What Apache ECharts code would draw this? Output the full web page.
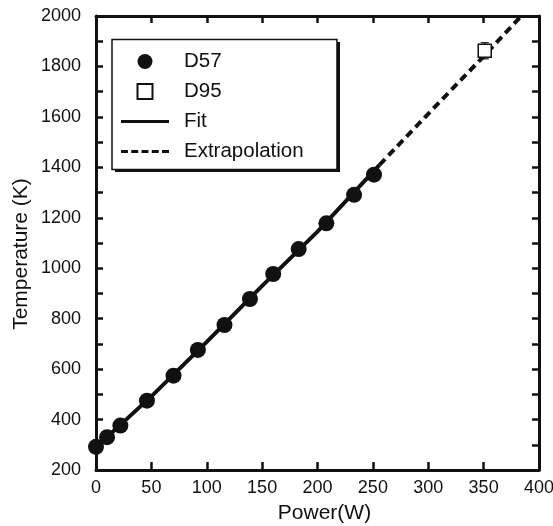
<!DOCTYPE html>
<html>
<head>
<meta charset="utf-8">
<script src="https://cdn.jsdelivr.net/npm/echarts@6/dist/echarts.min.js"></script>
<style>
html,body{margin:0;padding:0;background:#fff;}
#chart{width:553px;height:526px;}
</style>
</head>
<body>
<div id="chart"></div>
<script>
// ---- data ----
const powerD57 = [0, 10, 22, 46, 70, 92, 116, 139, 160, 183, 208, 233, 251];
const tempD57  = [292, 330, 376, 475, 574, 676, 775, 878, 977, 1076, 1178, 1291, 1371];
const powerD95 = [351];
const tempD95  = [1862];
const errD95   = [32];
const fitPower = [0, 50, 100, 150, 200, 256];
const fitTemp  = [290, 492, 708, 930, 1145, 1410];
const extPower = [256, 300, 350, 384];
const extTemp  = [1410, 1612, 1840, 2000];
const xTicks = [0, 50, 100, 150, 200, 250, 300, 350, 400];
const yTicks = [200, 400, 600, 800, 1000, 1200, 1400, 1600, 1800, 2000];

const FONT = '"Liberation Sans", Arial, sans-serif';
const INK = '#111';

const zip = (a, b) => a.map((v, i) => [v, b[i]]);
const plain = v => String(v);

const chart = echarts.init(document.getElementById('chart'), null, {renderer: 'canvas'});
const option = {
  animation: false,
  backgroundColor: '#fff',
  grid: {left: 96, right: 14, top: 16, bottom: 56, containLabel: false, outerBoundsMode: 'none'},
  xAxis: [{
    type: 'value', position: 'bottom',
    min: xTicks[0], max: xTicks[xTicks.length - 1], interval: 50,
    name: 'Power(W)', nameLocation: 'middle', nameGap: 33, nameMoveOverlap: false,
    nameTextStyle: {fontFamily: FONT, fontSize: 21, color: INK, padding: [0, 0, 0, 14]},
    axisLine: {show: true, onZero: false, lineStyle: {color: INK, width: 3}},
    axisTick: {show: true, inside: true, length: 8, lineStyle: {color: INK, width: 2.5}},
    axisLabel: {fontFamily: FONT, fontSize: 18, color: INK, margin: 9, formatter: plain},
    splitLine: {show: false}
  }, {
    type: 'value', position: 'top',
    min: xTicks[0], max: xTicks[xTicks.length - 1], interval: 50,
    axisLine: {show: true, onZero: false, lineStyle: {color: INK, width: 3}},
    axisTick: {show: true, inside: true, length: 7, lineStyle: {color: INK, width: 2.5}},
    axisLabel: {show: false},
    splitLine: {show: false}
  }],
  yAxis: [{
    type: 'value', position: 'left',
    min: yTicks[0], max: yTicks[yTicks.length - 1], interval: 200,
    name: 'Temperature (K)', nameLocation: 'middle', nameGap: 64, nameMoveOverlap: false,
    nameTextStyle: {fontFamily: FONT, fontSize: 21, color: INK, padding: [0, 22, 0, 0]},
    axisLine: {show: true, onZero: false, lineStyle: {color: INK, width: 3}},
    axisTick: {show: true, inside: true, length: 7, lineStyle: {color: INK, width: 2.5}},
    minorTick: {show: true, splitNumber: 2, length: 7, lineStyle: {color: INK, width: 2.5}},
    axisLabel: {fontFamily: FONT, fontSize: 18, color: INK, margin: 15, formatter: plain},
    splitLine: {show: false}
  }, {
    type: 'value', position: 'right',
    min: yTicks[0], max: yTicks[yTicks.length - 1], interval: 100,
    axisLine: {show: true, onZero: false, lineStyle: {color: INK, width: 3}},
    axisTick: {show: true, inside: true, length: 7, lineStyle: {color: INK, width: 2.5}},
    axisLabel: {show: false},
    splitLine: {show: false}
  }],
  legend: {
    orient: 'vertical', left: 121, top: 51, padding: 0,
    itemWidth: 48, itemHeight: 15, itemGap: 9,
    textStyle: {fontFamily: FONT, fontSize: 20.5, color: INK, padding: [0, 0, 0, 10]},
    data: [
      {name: 'D57', icon: 'circle'},
      {name: 'D95', icon: 'path://M0,0L10,0L10,10L0,10Z'},
      {name: 'Fit', icon: 'path://M0,0L48,0L48,3L0,3Z',
        itemStyle: {color: INK, borderWidth: 0}},
      {name: 'Extrapolation',
        icon: 'path://M0,0L7,0L7,3L0,3Z M10.25,0L17.25,0L17.25,3L10.25,3Z M20.5,0L27.5,0L27.5,3L20.5,3Z M30.75,0L37.75,0L37.75,3L30.75,3Z M41,0L48,0L48,3L41,3Z',
        itemStyle: {color: INK, borderWidth: 0}}
    ]
  },
  graphic: [{
    type: 'rect', z: 0,
    shape: {x: 115, y: 42, width: 225, height: 130},
    style: {fill: INK, stroke: null}
  }, {
    type: 'rect', z: 1,
    shape: {x: 112, y: 39.5, width: 225, height: 130},
    style: {fill: '#fff', stroke: INK, lineWidth: 1.5}
  }],
  series: [{
    name: 'Fit', type: 'line', data: zip(fitPower, fitTemp),
    symbol: 'none', clip: true, z: 3,
    lineStyle: {color: INK, width: 4}, itemStyle: {color: INK}
  }, {
    name: 'Extrapolation', type: 'line', data: zip(extPower, extTemp),
    symbol: 'none', clip: true, z: 3,
    lineStyle: {color: INK, width: 4, type: [8, 5]}, itemStyle: {color: INK}
  }, {
    name: 'D95err', type: 'custom', z: 4,
    data: powerD95.map((p, i) => [p, tempD95[i] - errD95[i], tempD95[i] + errD95[i]]),
    renderItem: function (params, api) {
      const lo = api.coord([api.value(0), api.value(1)]);
      const hi = api.coord([api.value(0), api.value(2)]);
      const w = 4;
      const st = {stroke: INK, lineWidth: 1.2};
      return {type: 'group', children: [
        {type: 'line', shape: {x1: lo[0], y1: lo[1], x2: hi[0], y2: hi[1]}, style: st},
        {type: 'line', shape: {x1: lo[0] - w, y1: lo[1], x2: lo[0] + w, y2: lo[1]}, style: st},
        {type: 'line', shape: {x1: hi[0] - w, y1: hi[1], x2: hi[0] + w, y2: hi[1]}, style: st}
      ]};
    }
  }, {
    name: 'D57', type: 'scatter', data: zip(powerD57, tempD57),
    symbol: 'circle', symbolSize: 16, z: 5,
    itemStyle: {color: INK, opacity: 1}
  }, {
    name: 'D95', type: 'scatter', data: zip(powerD95, tempD95),
    symbol: 'rect', symbolSize: 13, z: 5,
    itemStyle: {color: '#fff', borderColor: INK, borderWidth: 1.5, opacity: 1}
  }]
};
chart.setOption(option);
</script>
</body>
</html>
